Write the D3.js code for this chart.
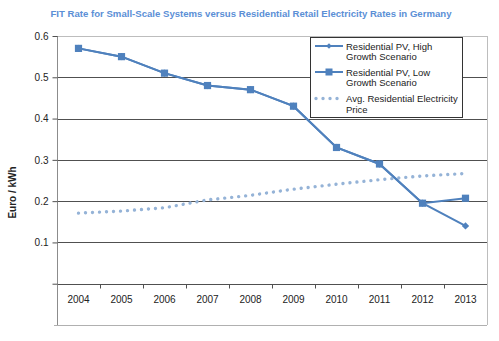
<!DOCTYPE html>
<html>
<head>
<meta charset="utf-8">
<script src="https://cdn.jsdelivr.net/npm/d3@7"></script>
<style>
  body { margin: 0; background: #fff; }
  svg { display: block; font-family: "Liberation Sans", Arial, sans-serif; }
</style>
</head>
<body>
<svg id="chart" width="499" height="341"></svg>
<script>
// Feed-in tariff rates vs. household electricity price, Germany (Euro / kWh)
const years = ["2004", "2005", "2006", "2007", "2008", "2009", "2010", "2011", "2012", "2013"];
const highGrowth = [0.57, 0.55, 0.51, 0.48, 0.47, 0.43, 0.33, 0.29, 0.195, 0.14];
const lowGrowth  = [0.57, 0.55, 0.51, 0.48, 0.47, 0.43, 0.33, 0.29, 0.195, 0.207];
const retailPrice = [0.171, 0.176, 0.184, 0.203, 0.214, 0.229, 0.241, 0.252, 0.261, 0.267];
const yTicks = [0.1, 0.2, 0.3, 0.4, 0.5, 0.6];
const legendLabels = [
  ["Residential PV, High", "Growth Scenario"],
  ["Residential PV, Low", "Growth Scenario"],
  ["Avg. Residential Electricity", "Price"]
];
const title = "FIT Rate for Small-Scale Systems versus Residential Retail Electricity Rates in Germany";

const svg = d3.select("#chart");
const plotL = 57, plotR = 487, plotT = 36, plotB = 325;
const lineColor = "#4F81BD", dotColor = "#95B3D7";

const x = d3.scaleBand().domain(years).range([plotL, plotR]).padding(0);
const y = d3.scaleLinear().domain([-0.1, 0.6]).range([plotB, plotT]);
const cx = d => x(d) + x.bandwidth() / 2;

// Title
svg.append("text")
  .attr("x", 251).attr("y", 16.5)
  .attr("text-anchor", "middle")
  .attr("font-size", 9.6).attr("font-weight", "bold")
  .attr("fill", "#5B8FD6")
  .text(title);

// Y axis label
svg.append("text")
  .attr("transform", `translate(16,${(plotT + plotB) / 2 + 12}) rotate(-90)`)
  .attr("text-anchor", "middle")
  .attr("font-size", 10).attr("font-weight", "bold")
  .attr("fill", "#222")
  .text("Euro / kWh");

// Plot frame: light top/right/bottom borders
const frame = svg.append("g");
frame.append("line").attr("x1", plotL).attr("x2", plotR).attr("y1", plotT + 0.5).attr("y2", plotT + 0.5)
  .attr("stroke", "#bdbdbd");
frame.append("line").attr("x1", plotR + 0.5).attr("x2", plotR + 0.5).attr("y1", plotT).attr("y2", plotB)
  .attr("stroke", "#bdbdbd");
frame.append("line").attr("x1", plotL - 3).attr("x2", plotR).attr("y1", plotB + 0.5).attr("y2", plotB + 0.5)
  .attr("stroke", "#b0b0b0");

// Horizontal gridlines
svg.append("g").selectAll("line")
  .data(yTicks.filter(t => t < 0.6).concat([0]))
  .join("line")
  .attr("x1", plotL).attr("x2", plotR)
  .attr("y1", d => Math.round(y(d)) + 0.5).attr("y2", d => Math.round(y(d)) + 0.5)
  .attr("stroke", "#505050");

// Y axis
const yAxis = svg.append("g")
  .attr("transform", `translate(${plotL + 0.5},0)`)
  .call(d3.axisLeft(y).tickValues([0].concat(yTicks)).tickSize(5).tickSizeOuter(0)
    .tickFormat(d => d === 0 ? "" : d3.format(".1f")(d)));
yAxis.select(".domain").attr("stroke", "#8c8c8c").attr("d", `M0,${plotT}V${plotB}`);
yAxis.selectAll(".tick line").attr("stroke", "#505050");
yAxis.selectAll(".tick text").attr("font-size", 10).attr("fill", "#222")
  .attr("font-family", "Liberation Sans, Arial, sans-serif").attr("x", -9);

// X axis on the zero line, ticks between categories
const xAxisG = svg.append("g").attr("transform", `translate(0,${Math.round(y(0)) + 0.5})`);
xAxisG.selectAll("line.tick")
  .data(years.slice(1))
  .join("line")
  .attr("class", "tick")
  .attr("x1", d => Math.round(x(d)) + 0.5).attr("x2", d => Math.round(x(d)) + 0.5)
  .attr("y1", 0).attr("y2", 4)
  .attr("stroke", "#505050");
xAxisG.selectAll("text")
  .data(years)
  .join("text")
  .attr("x", d => cx(d)).attr("y", 18)
  .attr("text-anchor", "middle")
  .attr("font-size", 10).attr("fill", "#222")
  .text(d => d);

// Retail price: round dotted line
const line = d3.line().x((d, i) => cx(years[i])).y(d => y(d));
svg.append("path")
  .datum(retailPrice)
  .attr("d", line)
  .attr("fill", "none")
  .attr("stroke", dotColor)
  .attr("stroke-width", 3.4)
  .attr("stroke-linecap", "round")
  .attr("stroke-dasharray", "0.01 7");

// High-growth scenario with diamond markers
svg.append("path")
  .datum(highGrowth)
  .attr("d", line)
  .attr("fill", "none").attr("stroke", lineColor).attr("stroke-width", 2);
svg.append("g").selectAll("path")
  .data(highGrowth)
  .join("path")
  .attr("transform", (d, i) => `translate(${cx(years[i])},${y(d)})`)
  .attr("d", d3.symbol(d3.symbolDiamond2, 34))
  .attr("fill", lineColor);

// Low-growth scenario with square markers
svg.append("path")
  .datum(lowGrowth)
  .attr("d", line)
  .attr("fill", "none").attr("stroke", lineColor).attr("stroke-width", 2);
svg.append("g").selectAll("rect")
  .data(lowGrowth)
  .join("rect")
  .attr("x", (d, i) => cx(years[i]) - 3.6).attr("y", d => y(d) - 3.6)
  .attr("width", 7.2).attr("height", 7.2)
  .attr("fill", lineColor);

// Legend
const lg = svg.append("g").attr("transform", "translate(310,37)");
lg.append("rect").attr("x", 0.5).attr("y", 0.5).attr("width", 152).attr("height", 80)
  .attr("fill", "#fff").attr("stroke", "#333");
const rowY = [9, 35, 61.5];
legendLabels.forEach((lines, i) => {
  const g = lg.append("g").attr("transform", `translate(0,${rowY[i]})`);
  if (i < 2) {
    g.append("line").attr("x1", 5).attr("x2", 33).attr("y1", 0).attr("y2", 0)
      .attr("stroke", lineColor).attr("stroke-width", 2);
    if (i === 0) {
      g.append("path").attr("transform", "translate(19,0)")
        .attr("d", d3.symbol(d3.symbolDiamond2, 20)).attr("fill", lineColor);
    } else {
      g.append("rect").attr("x", 15.5).attr("y", -3.5).attr("width", 7).attr("height", 7)
        .attr("fill", lineColor);
    }
  } else {
    g.append("line").attr("x1", 6).attr("x2", 33).attr("y1", 0).attr("y2", 0)
      .attr("stroke", dotColor).attr("stroke-width", 3.4)
      .attr("stroke-linecap", "round").attr("stroke-dasharray", "0.01 7");
  }
  lines.forEach((t, j) => {
    g.append("text").attr("x", 36).attr("y", 3.5 + j * 10.6)
      .attr("font-size", 9.5).attr("fill", "#222").text(t);
  });
});
</script>
</body>
</html>
